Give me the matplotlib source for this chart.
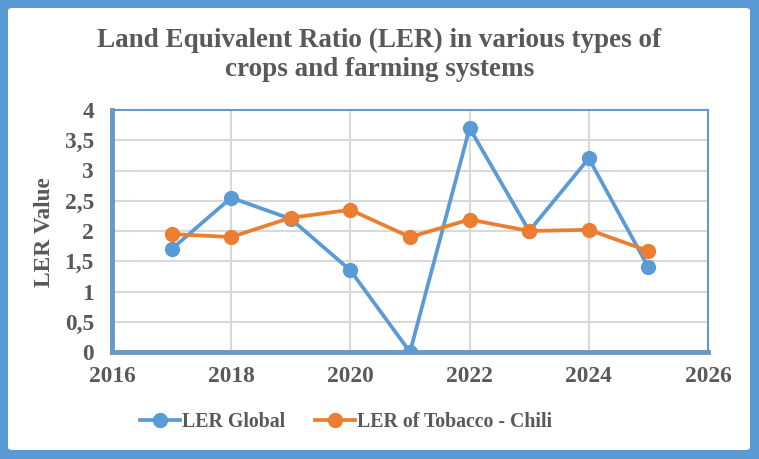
import matplotlib
matplotlib.use("Agg")
import matplotlib.pyplot as plt
from matplotlib.patches import FancyBboxPatch
from matplotlib.ticker import FuncFormatter

years = [2017, 2018, 2019, 2020, 2021, 2022, 2023, 2024, 2025]
ler_global = [1.70, 2.55, 2.20, 1.35, 0.0, 3.70, 2.00, 3.20, 1.40]
ler_tobacco_chili = [1.95, 1.90, 2.22, 2.35, 1.90, 2.19, 2.00, 2.02, 1.67]

title = "Land Equivalent Ratio (LER) in various types of\ncrops and farming systems"
ylabel = "LER Value"
labels = ["LER Global", "LER of Tobacco - Chili"]

text_col = "#595959"
frame_col = "#5B9BD5"
spine_col = "#6A98C4"

plt.rcParams["font.family"] = ["Liberation Serif", "DejaVu Serif"]
plt.rcParams["font.weight"] = "bold"

W, H = 759, 459
fig = plt.figure(figsize=(W / 100, H / 100), dpi=100)
fig.patch.set_facecolor(frame_col)

# white inner panel inside the blue frame
inner = FancyBboxPatch((8 / W, 9 / H), (W - 17) / W, (H - 17) / H,
                       boxstyle="round,pad=0,rounding_size=0.006",
                       transform=fig.transFigure, facecolor="white",
                       edgecolor="none", zorder=-10)
fig.patches.append(inner)

ax = fig.add_axes([112 / W, 1 - 352 / H, (708 - 112) / W, (352 - 110) / H])
ax.set_facecolor("white")

ax.plot(years, ler_global, color="#5B9BD5", lw=2.7, marker="o", ms=10,
        label=labels[0], zorder=3)
ax.plot(years, ler_tobacco_chili, color="#ED7D31", lw=2.7, marker="o", ms=10,
        label=labels[1], zorder=3)

ax.set_xlim(2016, 2026)
ax.set_ylim(0, 4)
ax.set_xticks(range(2016, 2027, 2))
ax.set_yticks([0, 0.5, 1, 1.5, 2, 2.5, 3, 3.5, 4])
ax.yaxis.set_major_formatter(FuncFormatter(lambda v, p: f"{v:g}".replace(".", ",")))

ax.grid(True, color="#D9D9D9", lw=1.5)
ax.set_axisbelow(True)
for side in ["left", "bottom"]:
    ax.spines[side].set_color(spine_col)
    ax.spines[side].set_linewidth(3.5)
for side in ["top", "right"]:
    ax.spines[side].set_color(spine_col)
    ax.spines[side].set_linewidth(1.5)
ax.tick_params(length=0, labelsize=16.8, colors=text_col)
ax.tick_params(axis="y", pad=13)
ax.tick_params(axis="x", pad=10)
for lab in ax.get_xticklabels() + ax.get_yticklabels():
    lab.set_fontweight("bold")

fig.text(44 / W, 1 - 232 / H, ylabel, rotation=90, ha="center", va="center",
         fontsize=16.8, color=text_col, fontweight="bold")

fig.text(0.5, 1 - 55 / H, title, ha="center", va="center", fontsize=19.5,
         color=text_col, fontweight="bold", linespacing=1.2)

leg = fig.legend(loc="center", bbox_to_anchor=(346 / W, 1 - 422 / H), ncol=2,
                 frameon=False, fontsize=14.3, handlelength=2.0,
                 handletextpad=0.1, columnspacing=1.5)
for t in leg.get_texts():
    t.set_color(text_col)
    t.set_fontweight("bold")

fig.savefig("out.png", dpi=100, facecolor=fig.get_facecolor())
